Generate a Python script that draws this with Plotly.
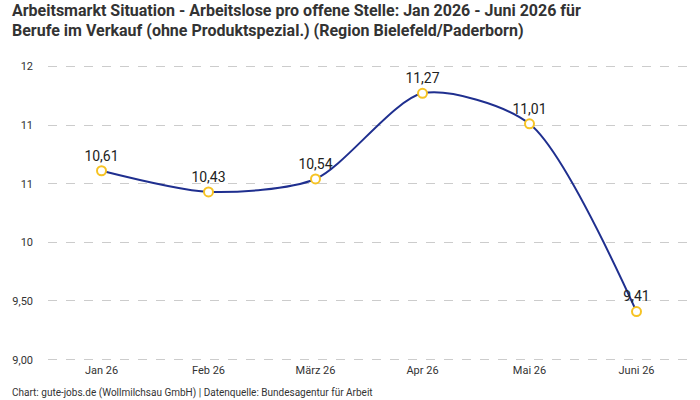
import plotly.graph_objects as go

months = ["Jan 26", "Feb 26", "März 26", "Apr 26", "Mai 26", "Juni 26"]
values = [10.61, 10.43, 10.54, 11.27, 11.01, 9.41]
labels = ["10,61", "10,43", "10,54", "11,27", "11,01", "9,41"]
y_tickvals = [9.0, 9.5, 10.0, 10.5, 11.0, 11.5]
y_ticktext = ["9,00", "9,50", "10", "11", "11", "12"]
title_lines = [
    "Arbeitsmarkt Situation - Arbeitslose pro offene Stelle: Jan 2026 - Juni 2026 für",
    "Berufe im Verkauf (ohne Produktspezial.) (Region Bielefeld/Paderborn)",
]
caption = "Chart: gute-jobs.de (Wollmilchsau GmbH) | Datenquelle: Bundesagentur für Arbeit"

font_family = "Roboto, 'Noto Sans', sans-serif"

fig = go.Figure()
fig.add_trace(go.Scatter(
    x=list(range(len(months))),
    y=values,
    mode="lines+markers+text",
    line=dict(color="#1f2f8f", width=2, shape="spline", smoothing=0.75),
    marker=dict(symbol="circle", size=9, color="white",
                line=dict(color="#f6c324", width=2)),
    text=labels,
    textposition="top center",
    textfont=dict(size=14, color="#222222", family=font_family),
    cliponaxis=False,
    hoverinfo="skip",
))

fig.update_layout(
    width=700, height=400,
    margin=dict(l=48, r=10, t=64, b=38),
    paper_bgcolor="white",
    plot_bgcolor="white",
    showlegend=False,
    font=dict(family=font_family, color="#444444"),
    xaxis=dict(
        tickmode="array",
        tickvals=list(range(len(months))),
        ticktext=months,
        range=[-0.5, 5.5],
        showgrid=False, zeroline=False, showline=False,
        ticks="", tickfont=dict(size=11, color="#333333"),
    ),
    yaxis=dict(
        tickmode="array",
        tickvals=y_tickvals,
        ticktext=y_ticktext,
        range=[8.98, 11.52],
        showgrid=True, gridcolor="#cccccc", griddash="dash", gridwidth=1,
        zeroline=False, showline=False,
        ticks="", ticklabelstandoff=14,
        tickfont=dict(size=11, color="#333333"),
    ),
)

title_centers = [11, 30]
for line, cy in zip(title_lines, title_centers):
    fig.add_annotation(
        text="<b>" + line + "</b>",
        xref="paper", yref="paper", x=-38 / 642, y=(362 - cy) / 298,
        xanchor="left", yanchor="middle", showarrow=False,
        font=dict(size=16, color="#333333", family=font_family),
    )

fig.add_annotation(
    text=caption,
    xref="paper", yref="paper", x=-38 / 642, y=-31 / 298,
    xanchor="left", yanchor="middle", showarrow=False,
    font=dict(size=10, color="#333333", family=font_family),
)

fig.write_html("out.html")
